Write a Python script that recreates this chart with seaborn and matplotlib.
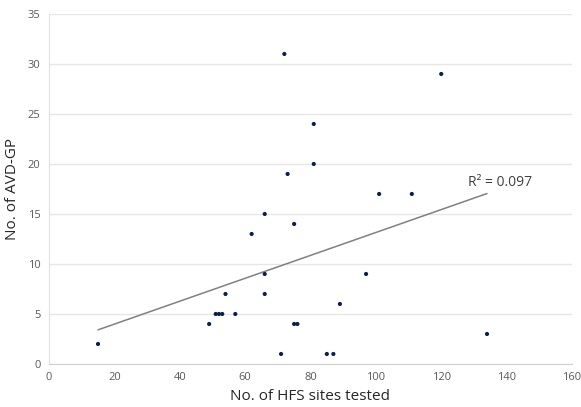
import pandas as pd
import seaborn as sns
import matplotlib.pyplot as plt

hfs_sites = [15, 49, 51, 52, 53, 54, 57, 62, 66, 66, 66, 71, 72, 73, 75, 75, 76,
             81, 81, 85, 87, 89, 97, 101, 111, 120, 134]
avd_gp = [2, 4, 5, 5, 5, 7, 5, 13, 15, 9, 7, 1, 31, 19, 14, 4, 4,
          24, 20, 1, 1, 6, 9, 17, 17, 29, 3]
r2_label = 'R² = 0.097'

df = pd.DataFrame({'hfs': hfs_sites, 'avd': avd_gp})

sns.set_style('white')
plt.rcParams['font.family'] = ['Open Sans', 'DejaVu Sans']

fig = plt.figure(figsize=(5.81, 4.07), dpi=100)
ax = fig.add_axes([0.0843, 0.1057, 0.9002, 0.86])

sns.regplot(data=df, x='hfs', y='avd', scatter=False, ci=None, truncate=True,
            line_kws={'color': '#808080', 'linewidth': 1.1}, ax=ax)
sns.scatterplot(data=df, x='hfs', y='avd', color='#0d1f4f', s=9,
                edgecolor='none', ax=ax, zorder=3)

ax.set_xlim(0, 160)
ax.set_ylim(0, 35)
ax.set_xticks(range(0, 161, 20))
ax.set_yticks(range(0, 36, 5))
ax.yaxis.grid(True, color='#e6e6e6', linewidth=1)
ax.set_axisbelow(True)
for side in ['top', 'right']:
    ax.spines[side].set_visible(False)
ax.spines['left'].set_color('#e0e0e0')
ax.spines['bottom'].set_color('#d0d0d0')
ax.tick_params(axis='both', length=0, labelsize=8, labelcolor='#595959', pad=6)

ax.set_xlabel('No. of HFS sites tested', fontsize=11, color='#262626', labelpad=4)
ax.set_ylabel('No. of AVD-GP', fontsize=11, color='#262626', labelpad=6)

ax.text(138, 18.1, r2_label, fontsize=10, color='#404040',
        ha='center', va='center')

fig.savefig('out.png', dpi=100)
